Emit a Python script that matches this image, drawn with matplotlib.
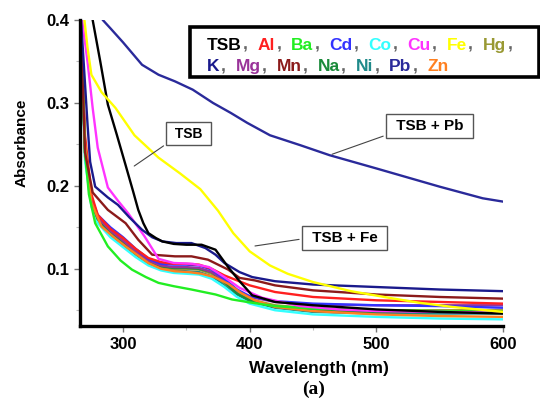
import matplotlib.pyplot as plt
from matplotlib.patches import Rectangle
from matplotlib.ticker import MultipleLocator

plt.rcParams['font.family'] = ['Liberation Sans', 'DejaVu Sans']
plt.rcParams['font.weight'] = 'bold'

# series data (wavelength nm, absorbance)
wl_tsb = [276, 282, 288, 295, 302, 308, 312, 316, 320, 326, 331, 340, 350, 362, 373, 383, 392, 402, 420, 450, 500, 550, 600]
abs_tsb = [0.40, 0.35, 0.298, 0.262, 0.225, 0.193, 0.171, 0.155, 0.143, 0.137, 0.133, 0.130, 0.129, 0.129, 0.123, 0.102, 0.085, 0.068, 0.060, 0.056, 0.051, 0.048, 0.046]

wl_pb = [278, 284, 290, 300, 315, 328, 341, 355, 371, 385, 398, 416, 440, 463, 500, 550, 584, 600]
abs_pb = [0.42, 0.400, 0.390, 0.373, 0.346, 0.334, 0.326, 0.316, 0.300, 0.288, 0.276, 0.261, 0.249, 0.237, 0.221, 0.199, 0.185, 0.181]

wl_fe = [268, 272, 275, 283, 294, 309, 328, 345, 361, 375, 387, 400, 416, 430, 450, 480, 510, 534, 560, 600]
abs_fe = [0.42, 0.366, 0.334, 0.313, 0.294, 0.261, 0.234, 0.215, 0.196, 0.170, 0.143, 0.121, 0.104, 0.094, 0.084, 0.073, 0.065, 0.059, 0.054, 0.048]

wl_cu = [266, 272, 276, 280, 288, 296, 304, 317, 328, 340, 355, 368, 380, 392, 410, 440, 470, 500, 550, 600]
abs_cu = [0.42, 0.349, 0.294, 0.246, 0.198, 0.182, 0.167, 0.139, 0.112, 0.107, 0.106, 0.102, 0.090, 0.077, 0.065, 0.055, 0.051, 0.049, 0.048, 0.047]

wl_k = [266, 272, 274, 278, 288, 296, 305, 315, 323, 331, 342, 354, 365, 373, 380, 392, 402, 420, 450, 500, 550, 600]
abs_k = [0.42, 0.273, 0.229, 0.199, 0.186, 0.177, 0.162, 0.147, 0.138, 0.133, 0.131, 0.131, 0.125, 0.117, 0.107, 0.096, 0.090, 0.085, 0.081, 0.078, 0.075, 0.073]

wl_mn = [266, 270, 276, 288, 302, 312, 323, 341, 354, 367, 383, 392, 404, 420, 450, 500, 550, 600]
abs_mn = [0.42, 0.24, 0.192, 0.171, 0.155, 0.135, 0.117, 0.115, 0.115, 0.111, 0.099, 0.089, 0.086, 0.080, 0.074, 0.069, 0.066, 0.064]

wl_ba = [266, 270, 273, 278, 288, 298, 307, 318, 328, 340, 354, 373, 386, 402, 420, 450, 500, 550, 600]
abs_ba = [0.42, 0.24, 0.19, 0.155, 0.127, 0.110, 0.099, 0.090, 0.083, 0.079, 0.075, 0.069, 0.063, 0.059, 0.055, 0.052, 0.050, 0.049, 0.048]

wl_zn = [266, 270, 275, 283, 292, 302, 311, 320, 330, 341, 352, 362, 372, 383, 393, 404, 420, 450, 500, 550, 600]
abs_zn = [0.42, 0.25, 0.180, 0.151, 0.139, 0.127, 0.117, 0.107, 0.100, 0.097, 0.096, 0.094, 0.090, 0.082, 0.071, 0.062, 0.054, 0.049, 0.045, 0.043, 0.042]

wl_grid = [266, 270, 275, 280, 290, 300, 310, 320, 330, 340, 350, 360, 370, 380, 390, 400, 420, 450, 500, 550, 600]
abs_al = [0.42, 0.26, 0.19, 0.165, 0.148, 0.137, 0.124, 0.113, 0.108, 0.106, 0.106, 0.105, 0.100, 0.092, 0.086, 0.080, 0.072, 0.066, 0.062, 0.060, 0.058]
abs_cd = [0.42, 0.25, 0.185, 0.165, 0.150, 0.138, 0.124, 0.112, 0.106, 0.105, 0.105, 0.104, 0.099, 0.088, 0.075, 0.067, 0.061, 0.058, 0.056, 0.055, 0.053]
abs_co = [0.42, 0.23, 0.175, 0.155, 0.138, 0.126, 0.114, 0.104, 0.098, 0.095, 0.094, 0.093, 0.088, 0.078, 0.066, 0.058, 0.050, 0.045, 0.042, 0.040, 0.039]
abs_hg = [0.42, 0.24, 0.18, 0.16, 0.143, 0.131, 0.119, 0.108, 0.102, 0.100, 0.100, 0.099, 0.094, 0.083, 0.071, 0.063, 0.056, 0.052, 0.050, 0.050, 0.050]
abs_mg = [0.42, 0.245, 0.183, 0.162, 0.146, 0.134, 0.121, 0.110, 0.104, 0.102, 0.102, 0.101, 0.096, 0.086, 0.074, 0.066, 0.060, 0.057, 0.056, 0.056, 0.056]
abs_na = [0.42, 0.24, 0.18, 0.16, 0.144, 0.132, 0.120, 0.109, 0.103, 0.101, 0.101, 0.100, 0.096, 0.084, 0.070, 0.062, 0.054, 0.050, 0.048, 0.048, 0.048]
abs_ni = [0.42, 0.235, 0.178, 0.157, 0.141, 0.129, 0.117, 0.106, 0.100, 0.098, 0.097, 0.096, 0.091, 0.081, 0.069, 0.061, 0.053, 0.048, 0.046, 0.046, 0.046]

names = ['TSB', 'Al', 'Ba', 'Cd', 'Co', 'Cu', 'Fe', 'Hg', 'K', 'Mg', 'Mn', 'Na', 'Ni', 'Pb', 'Zn']
colors = ['#000000', '#ff2020', '#22ee22', '#3333ff', '#33ffff', '#ff33ff', '#ffff00', '#999933',
          '#1a1a8c', '#993399', '#8b1a1a', '#1a8a3a', '#1f8a8a', '#2a2a9a', '#ff8020']
col = dict(zip(names, colors))

series = [
    ('Ni', wl_grid, abs_ni), ('Co', wl_grid, abs_co), ('Hg', wl_grid, abs_hg), ('Na', wl_grid, abs_na),
    ('Mg', wl_grid, abs_mg), ('Cd', wl_grid, abs_cd), ('Al', wl_grid, abs_al), ('Zn', wl_zn, abs_zn),
    ('Ba', wl_ba, abs_ba), ('Mn', wl_mn, abs_mn), ('Cu', wl_cu, abs_cu), ('K', wl_k, abs_k),
    ('TSB', wl_tsb, abs_tsb), ('Fe', wl_fe, abs_fe), ('Pb', wl_pb, abs_pb),
]

fig = plt.figure(figsize=(5.4, 3.98), dpi=100)
ax = fig.add_axes([80/540, 72/398, 423/540, 306/398])

for n, x, y in series:
    ax.plot(x, y, color=col[n], lw=1.7)

ax.set_xlim(266, 600)
ax.set_ylim(0.031, 0.4)
ax.xaxis.set_minor_locator(MultipleLocator(50))
ax.yaxis.set_minor_locator(MultipleLocator(0.05))
ax.set_yticks([0.1, 0.2, 0.3, 0.4])
ax.set_yticklabels(['0.1', '0.2', '0.3', '0.4'])
ax.set_xticks([300, 400, 500, 600])

for s in ['top', 'right']:
    ax.spines[s].set_visible(False)
for s in ['left', 'bottom']:
    ax.spines[s].set_linewidth(2.4)
ax.tick_params(which='major', length=4, width=1, color='#777', labelsize=12, pad=4)
ax.tick_params(which='minor', length=3, width=0.8, color='#bbb')

ax.set_xlabel('Wavelength (nm)', fontsize=12.5, fontweight='bold')
ax.xaxis.set_label_coords(0.565, -0.115)
ax.set_ylabel('Absorbance', fontsize=11, fontweight='bold')
ax.yaxis.set_label_coords(-0.122, 0.60)

# callout boxes
box = dict(boxstyle='square,pad=0.35', fc='white', ec='#555', lw=1)
ax.annotate(' TSB ', xy=(307, 0.222), xytext=(352, 0.263), fontsize=10, fontweight='bold',
            ha='center', va='center', bbox=box,
            arrowprops=dict(arrowstyle='-', color='#444', lw=0.8, relpos=(0, 0)))
ax.annotate(' TSB + Pb ', xy=(463, 0.237), xytext=(542, 0.272), fontsize=11, fontweight='bold',
            ha='center', va='center', bbox=box,
            arrowprops=dict(arrowstyle='-', color='#444', lw=0.8, relpos=(0, 0)))
ax.annotate(' TSB + Fe ', xy=(402, 0.127), xytext=(475, 0.137), fontsize=11, fontweight='bold',
            ha='center', va='center', bbox=box,
            arrowprops=dict(arrowstyle='-', color='#444', lw=0.8, relpos=(0, 0.5)))

# colored legend box, drawn by the axes so the chained texts sit above it
ax.add_patch(Rectangle((190/540, 1 - 77/398), 349/540, 50/398, transform=fig.transFigure,
                       fc='white', ec='black', lw=2.6, zorder=5, clip_on=False))
rows = [(['TSB', 'Al', 'Ba', 'Cd', 'Co', 'Cu', 'Fe', 'Hg'], 1 - 50/398, True),
        (['K', 'Mg', 'Mn', 'Na', 'Ni', 'Pb', 'Zn'], 1 - 71/398, False)]
for items, yb, trailing in rows:
    prev = ax.text(207/540, yb, items[0], color=col[items[0]], fontsize=12.5, fontweight='bold',
                   va='baseline', zorder=6, transform=fig.transFigure, clip_on=False)
    rest = items[1:] + ([''] if trailing else [])
    for n in rest:
        sep = ax.annotate(',', xy=(1, 0), xycoords=prev, xytext=(1, 0), textcoords='offset points',
                          color='#666', fontsize=12.5, fontweight='bold', va='bottom', zorder=6,
                          annotation_clip=False)
        if n == '':
            break
        prev = ax.annotate(n, xy=(1, 0), xycoords=sep, xytext=(7, 0), textcoords='offset points',
                           color=col[n], fontsize=12.5, fontweight='bold', va='bottom', zorder=6,
                           annotation_clip=False)

fig.text(314/540, 1 - 389/398, '(a)', family='Liberation Serif', fontsize=14, fontweight='bold',
         ha='center', va='center')

fig.savefig('out.png', dpi=100)
